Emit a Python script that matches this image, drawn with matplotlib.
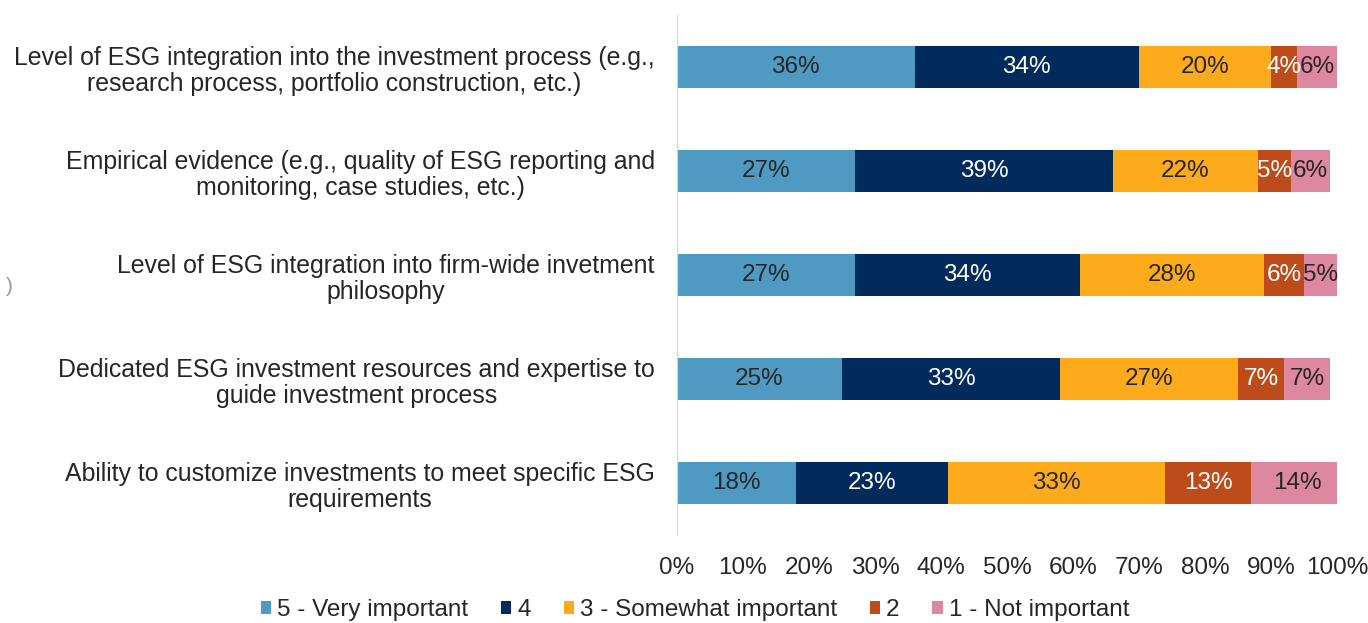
import matplotlib.pyplot as plt
import numpy as np

plt.rcParams['font.family'] = ['Liberation Sans', 'DejaVu Sans']

categories = [
    "Level of ESG integration into the investment process (e.g.,\nresearch process, portfolio construction, etc.)",
    "Empirical evidence (e.g., quality of ESG reporting and\nmonitoring, case studies, etc.)",
    "Level of ESG integration into firm-wide invetment\nphilosophy",
    "Dedicated ESG investment resources and expertise to\nguide investment process",
    "Ability to customize investments to meet specific ESG\nrequirements",
]
series_names = ["5 - Very important", "4", "3 - Somewhat important", "2", "1 - Not important"]
very_important = [36, 27, 27, 25, 18]
four = [34, 39, 34, 33, 23]
somewhat = [20, 22, 28, 27, 33]
two = [4, 5, 6, 7, 13]
not_important = [6, 6, 5, 7, 14]
tick_labels = [f"{v}%" for v in range(0, 101, 10)]

colors = ["#4F9AC2", "#002B5C", "#FDAA1B", "#BE4B1A", "#DE87A0"]
text_colors = ["#262626", "white", "#262626", "white", "#262626"]

data = [very_important, four, somewhat, two, not_important]
FS = 17.5

fig = plt.figure(figsize=(13.68, 6.23), dpi=100)
ax = fig.add_axes([677 / 1368, 1 - 535 / 623, 660 / 1368, 520 / 623])

y = np.arange(len(categories))
left = np.zeros(len(categories))
for vals, name, c, tc in zip(data, series_names, colors, text_colors):
    vals = np.array(vals, dtype=float)
    ax.barh(y, vals, left=left, height=0.4, color=c, label=name)
    for yi, l, v in zip(y, left, vals):
        ax.text(l + v / 2, yi, f"{int(v)}%", ha="center", va="center",
                color=tc, fontsize=FS)
    left += vals

ax.set_xlim(0, 100)
ax.set_ylim(4.5, -0.5)
ax.set_xticks(range(0, 101, 10))
ax.set_xticklabels(tick_labels, fontsize=FS, color="#262626")
ax.set_yticks(y)
ax.set_yticklabels(categories, fontsize=17.9, color="#262626")
for t in ax.get_yticklabels():
    t.set_multialignment("center")
    t.set_linespacing(1.15)
ax.tick_params(axis="both", length=0)
ax.tick_params(axis="x", pad=16)
ax.tick_params(axis="y", pad=16)
for s in ["top", "right", "bottom"]:
    ax.spines[s].set_visible(False)
ax.spines["left"].set_color("#D9D9D9")

fig.text(6 / 1368, 1 - 287 / 623, ")", color="#999999", fontsize=15, va="center")

fig.legend(loc="center", bbox_to_anchor=(695 / 1368, 1 - 610 / 623), ncol=5,
           frameon=False, fontsize=FS, handlelength=0.42, handleheight=0.42,
           handletextpad=0.25, columnspacing=1.35, labelcolor="#262626")

fig.savefig("out.png", dpi=100)
